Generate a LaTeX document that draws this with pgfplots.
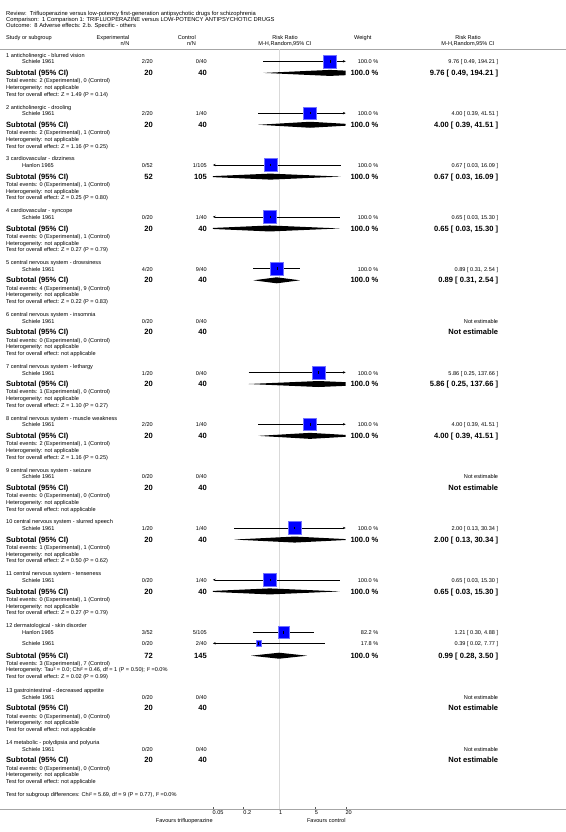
\documentclass[border=0pt]{standalone}
\usepackage{pgfplots}
\pgfplotsset{compat=1.18}
\usetikzlibrary{arrows.meta}
\usepackage{fontspec}
\setmainfont{Liberation Sans}
\newcommand{\fs}{\fontsize{5.6}{6}\selectfont}
\newcommand{\fh}{\fontsize{5.8}{6}\selectfont}
\newcommand{\fb}{\fontsize{7.6}{8}\selectfont\bfseries}
\newcommand{\tl}[3]{\node[anchor=mid west,inner sep=0pt,font=\fs] at (#1bp,-#2bp) {#3};}
\newcommand{\tr}[3]{\node[anchor=mid east,inner sep=0pt,font=\fs] at (#1bp,-#2bp) {#3};}
\newcommand{\tc}[3]{\node[anchor=mid,inner sep=0pt,font=\fs] at (#1bp,-#2bp) {#3};}
\newcommand{\bl}[3]{\node[anchor=mid west,inner sep=0pt,font=\fb] at (#1bp,-#2bp) {#3};}
\newcommand{\br}[3]{\node[anchor=mid east,inner sep=0pt,font=\fb] at (#1bp,-#2bp) {#3};}
% group: base y, title, events, heterogeneity, test
\newcommand{\grp}[5]{%
  \pgfmathsetmacro{\ya}{#1}%
  \pgfmathsetmacro{\yd}{#1+25.6}%
  \pgfmathsetmacro{\ye}{#1+32.3}%
  \pgfmathsetmacro{\yf}{#1+39}%
  \tl{6}{\ya}{#2}\tl{6}{\yd}{#3}\tl{6}{\ye}{#4}\tl{6}{\yf}{#5}}
% study row: y, name, exp, ctrl, weight, value
\newcommand{\study}[6]{\tl{22}{#1}{#2}\tr{153}{#1}{#3}\tr{207}{#1}{#4}\tr{378.5}{#1}{#5}\tr{498.3}{#1}{#6}}
% subtotal row: y, exp, ctrl, weight, value
\newcommand{\sub}[5]{\bl{6}{#1}{Subtotal (95\% CI)}\br{153}{#1}{#2}\br{207}{#1}{#3}\br{378.5}{#1}{#4}\br{498.3}{#1}{#5}}
\begin{document}
\begin{tikzpicture}
\path[use as bounding box] (0,0) rectangle (566bp,-832bp);
% header
\node[anchor=mid west,inner sep=0pt,font=\fh] at (6bp,-12.5bp) {Review:\ \ Trifluoperazine versus low-potency first-generation antipsychotic drugs for schizophrenia};
\node[anchor=mid west,inner sep=0pt,font=\fh] at (6bp,-18.7bp) {Comparison:\ \ 1 Comparison 1: TRIFLUOPERAZINE versus LOW-POTENCY ANTIPSYCHOTIC DRUGS};
\node[anchor=mid west,inner sep=0pt,font=\fh] at (6bp,-24.9bp) {Outcome:\ \ 8 Adverse effects: 2.b. Specific - others};
\tl{6}{37}{Study or subgroup}
\tr{129.5}{37}{Experimental}\tr{129.5}{43}{n/N}
\tr{196}{37}{Control}\tr{196}{43}{n/N}
\tc{285}{37}{Risk Ratio}\tc{285}{43}{M-H,Random,95\% CI}
\tl{354}{37}{Weight}
\tc{468}{37}{Risk Ratio}\tc{468}{43}{M-H,Random,95\% CI}
\draw[gray!70, line width=0.7bp] (0,-49bp) -- (566bp,-49bp);
\draw[gray!70, line width=0.7bp] (0,-809bp) -- (566bp,-809bp);
% groups
\grp{54.6}{1 anticholinergic - blurred vision}{Total events: 2 (Experimental), 0 (Control)}{Heterogeneity: not applicable}{Test for overall effect: Z = 1.49 (P = 0.14)}
\study{61.3}{Schiele 1961}{2/20}{0/40}{100.0 \%}{9.76 [ 0.49, 194.21 ]}
\sub{72.9}{20}{40}{100.0 \%}{9.76 [ 0.49, 194.21 ]}
\grp{106.45}{2 anticholinergic - drooling}{Total events: 2 (Experimental), 1 (Control)}{Heterogeneity: not applicable}{Test for overall effect: Z = 1.16 (P = 0.25)}
\study{113.15}{Schiele 1961}{2/20}{1/40}{100.0 \%}{4.00 [ 0.39, 41.51 ]}
\sub{124.75}{20}{40}{100.0 \%}{4.00 [ 0.39, 41.51 ]}
\grp{158.3}{3 cardiovascular - dizziness}{Total events: 0 (Experimental), 1 (Control)}{Heterogeneity: not applicable}{Test for overall effect: Z = 0.25 (P = 0.80)}
\study{165.0}{Hanlon 1965}{0/52}{1/105}{100.0 \%}{0.67 [ 0.03, 16.09 ]}
\sub{176.6}{52}{105}{100.0 \%}{0.67 [ 0.03, 16.09 ]}
\grp{210.15}{4 cardiovascular - syncope}{Total events: 0 (Experimental), 1 (Control)}{Heterogeneity: not applicable}{Test for overall effect: Z = 0.27 (P = 0.79)}
\study{216.85}{Schiele 1961}{0/20}{1/40}{100.0 \%}{0.65 [ 0.03, 15.30 ]}
\sub{228.45}{20}{40}{100.0 \%}{0.65 [ 0.03, 15.30 ]}
\grp{262.0}{5 central nervous system - drowsiness}{Total events: 4 (Experimental), 9 (Control)}{Heterogeneity: not applicable}{Test for overall effect: Z = 0.22 (P = 0.83)}
\study{268.7}{Schiele 1961}{4/20}{9/40}{100.0 \%}{0.89 [ 0.31, 2.54 ]}
\sub{280.3}{20}{40}{100.0 \%}{0.89 [ 0.31, 2.54 ]}
\grp{313.85}{6 central nervous system - insomnia}{Total events: 0 (Experimental), 0 (Control)}{Heterogeneity: not applicable}{Test for overall effect: not applicable}
\study{320.55}{Schiele 1961}{0/20}{0/40}{}{Not estimable}
\sub{332.15}{20}{40}{}{Not estimable}
\grp{365.7}{7 central nervous system - lethargy}{Total events: 1 (Experimental), 0 (Control)}{Heterogeneity: not applicable}{Test for overall effect: Z = 1.10 (P = 0.27)}
\study{372.4}{Schiele 1961}{1/20}{0/40}{100.0 \%}{5.86 [ 0.25, 137.66 ]}
\sub{384.0}{20}{40}{100.0 \%}{5.86 [ 0.25, 137.66 ]}
\grp{417.55}{8 central nervous system - muscle weakness}{Total events: 2 (Experimental), 1 (Control)}{Heterogeneity: not applicable}{Test for overall effect: Z = 1.16 (P = 0.25)}
\study{424.25}{Schiele 1961}{2/20}{1/40}{100.0 \%}{4.00 [ 0.39, 41.51 ]}
\sub{435.85}{20}{40}{100.0 \%}{4.00 [ 0.39, 41.51 ]}
\grp{469.4}{9 central nervous system - seizure}{Total events: 0 (Experimental), 0 (Control)}{Heterogeneity: not applicable}{Test for overall effect: not applicable}
\study{476.1}{Schiele 1961}{0/20}{0/40}{}{Not estimable}
\sub{487.7}{20}{40}{}{Not estimable}
\grp{521.25}{10 central nervous system - slurred speech}{Total events: 1 (Experimental), 1 (Control)}{Heterogeneity: not applicable}{Test for overall effect: Z = 0.50 (P = 0.62)}
\study{527.95}{Schiele 1961}{1/20}{1/40}{100.0 \%}{2.00 [ 0.13, 30.34 ]}
\sub{539.55}{20}{40}{100.0 \%}{2.00 [ 0.13, 30.34 ]}
\grp{573.1}{11 central nervous system - tenseness}{Total events: 0 (Experimental), 1 (Control)}{Heterogeneity: not applicable}{Test for overall effect: Z = 0.27 (P = 0.79)}
\study{579.8}{Schiele 1961}{0/20}{1/40}{100.0 \%}{0.65 [ 0.03, 15.30 ]}
\sub{591.4}{20}{40}{100.0 \%}{0.65 [ 0.03, 15.30 ]}
\tl{6}{625}{12 dermatological - skin disorder}
\study{632.3}{Hanlon 1965}{3/52}{5/105}{82.2 \%}{1.21 [ 0.30, 4.88 ]}
\study{643.3}{Schiele 1961}{0/20}{2/40}{17.8 \%}{0.39 [ 0.02, 7.77 ]}
\sub{655.7}{72}{145}{100.0 \%}{0.99 [ 0.28, 3.50 ]}
\tl{6}{662.7}{Total events: 3 (Experimental), 7 (Control)}
\tl{6}{669.3}{Heterogeneity: Tau² = 0.0; Chi² = 0.46, df = 1 (P = 0.50); I² =0.0\%}
\tl{6}{676}{Test for overall effect: Z = 0.02 (P = 0.99)}
\grp{690}{13 gastrointestinal - decreased appetite}{Total events: 0 (Experimental), 0 (Control)}{Heterogeneity: not applicable}{Test for overall effect: not applicable}
\study{696.7}{Schiele 1961}{0/20}{0/40}{}{Not estimable}
\sub{708.3}{20}{40}{}{Not estimable}
\grp{741.8}{14 metabolic - polydipsia and polyuria}{Total events: 0 (Experimental), 0 (Control)}{Heterogeneity: not applicable}{Test for overall effect: not applicable}
\study{748.5}{Schiele 1961}{0/20}{0/40}{}{Not estimable}
\sub{760.1}{20}{40}{}{Not estimable}
\tl{6}{794}{Test for subgroup differences: Chi² = 5.69, df = 9 (P = 0.77), I² =0.0\%}
\node[anchor=mid east,inner sep=0pt,font=\fs] at (212.9bp,-820bp) {Favours trifluoperazine};
\node[anchor=mid east,inner sep=0pt,font=\fs] at (345.7bp,-820bp) {Favours control};
% forest plot
\begin{axis}[
  at={(212.9bp,-809bp)}, anchor=south west,
  width=132.8bp, height=760bp, scale only axis,
  xmode=log, xmin=0.05, xmax=20, ymin=-809, ymax=-49,
  axis y line=none, axis x line*=bottom, x axis line style={draw=none},
  xtick={0.05,0.2,1,5,20}, xticklabels={0.05,0.2,1,5,20}, minor xtick={},
  tick align=inside, major tick length=2.5bp,
  tick style={gray!70!black, line width=0.4bp},
  xticklabel style={font=\fs, anchor=north west, inner sep=0pt, yshift=-1.8bp, xshift=-0.4bp},
  clip=false,
  ci/.style={black, line width=0.45bp},
  arr/.style={-{Stealth[length=2.8bp,width=2.4bp]}},
  larr/.style={{Stealth[length=2.8bp,width=2.4bp]}-},
  dia/.style={fill=black, draw=none},
]
\addplot[draw=gray!30, line width=0.9bp] coordinates {(1,-49) (1,-809)};
% squares
\addplot[only marks, mark=square*, mark size=6.4bp, mark options={fill=blue, draw=blue!55!white, line width=0.4bp}] coordinates {
 (9.76,-61.3) (4.00,-113.15) (0.67,-165.0) (0.65,-216.85) (0.89,-268.7)
 (5.86,-372.4) (4.00,-424.25) (2.00,-527.95) (0.65,-579.8)};
\addplot[only marks, mark=square*, mark size=5.8bp, mark options={fill=blue, draw=blue!55!white, line width=0.4bp}] coordinates {(1.21,-632.3)};
\addplot[only marks, mark=square*, mark size=2.7bp, mark options={fill=blue, draw=blue!55!white, line width=0.4bp}] coordinates {(0.39,-643.3)};
% CI lines
\addplot[ci, arr] coordinates {(0.49,-61.3) (20,-61.3)};
\addplot[ci, arr] coordinates {(0.39,-113.15) (20,-113.15)};
\addplot[ci, larr] coordinates {(0.05,-165.0) (16.09,-165.0)};
\addplot[ci, larr] coordinates {(0.05,-216.85) (15.30,-216.85)};
\addplot[ci] coordinates {(0.31,-268.7) (2.54,-268.7)};
\addplot[ci, arr] coordinates {(0.25,-372.4) (20,-372.4)};
\addplot[ci, arr] coordinates {(0.39,-424.25) (20,-424.25)};
\addplot[ci, arr] coordinates {(0.13,-527.95) (20,-527.95)};
\addplot[ci, larr] coordinates {(0.05,-579.8) (15.30,-579.8)};
\addplot[ci] coordinates {(0.30,-632.3) (4.88,-632.3)};
\addplot[ci, larr] coordinates {(0.05,-643.3) (7.77,-643.3)};
% centre ticks
\addplot[only marks, mark=|, mark size=1.3bp, black, mark options={line width=0.4bp}] coordinates {
 (9.76,-61.3) (4.00,-113.15) (0.67,-165.0) (0.65,-216.85) (0.89,-268.7)
 (5.86,-372.4) (4.00,-424.25) (2.00,-527.95) (0.65,-579.8) (1.21,-632.3) (0.39,-643.3)};
% diamonds
\addplot[dia] coordinates {(0.49,-72.9) (9.76,-69.9) (20,-70.62) (20,-75.18) (9.76,-75.9) (0.49,-72.9)};
\addplot[dia] coordinates {(0.39,-124.75) (4,-121.75) (20,-123.81) (20,-125.69) (4,-127.75) (0.39,-124.75)};
\addplot[dia] coordinates {(0.05,-176.11) (0.67,-173.6) (16.09,-176.6) (0.67,-179.6) (0.05,-177.09) (0.05,-176.11)};
\addplot[dia] coordinates {(0.05,-227.95) (0.65,-225.45) (15.30,-228.45) (0.65,-231.45) (0.05,-228.95) (0.05,-227.95)};
\addplot[dia] coordinates {(0.31,-280.3) (0.89,-277.3) (2.54,-280.3) (0.89,-283.3) (0.31,-280.3)};
\addplot[dia] coordinates {(0.25,-384) (5.86,-381) (20,-382.17) (20,-385.83) (5.86,-387) (0.25,-384)};
\addplot[dia] coordinates {(0.39,-435.85) (4,-432.85) (20,-434.91) (20,-436.79) (4,-438.85) (0.39,-435.85)};
\addplot[dia] coordinates {(0.13,-539.55) (2,-536.55) (20,-539.09) (20,-540.01) (2,-542.55) (0.13,-539.55)};
\addplot[dia] coordinates {(0.05,-590.9) (0.65,-588.4) (15.30,-591.4) (0.65,-594.4) (0.05,-591.9) (0.05,-590.9)};
\addplot[dia] coordinates {(0.28,-655.7) (0.99,-652.7) (3.50,-655.7) (0.99,-658.7) (0.28,-655.7)};
\end{axis}
\end{tikzpicture}
\end{document}
